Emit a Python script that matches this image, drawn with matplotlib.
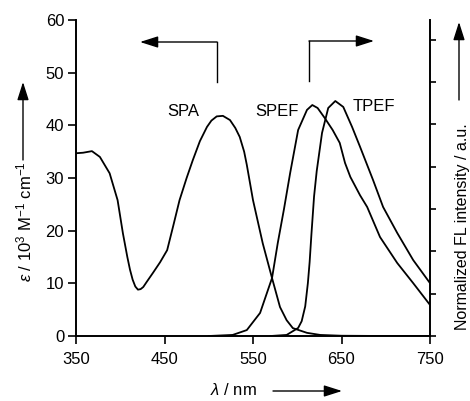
import numpy as np
import matplotlib
matplotlib.use("Agg")
import matplotlib.pyplot as plt

plt.rcParams['font.family'] = ['Liberation Sans', 'DejaVu Sans']
plt.rcParams['mathtext.fontset'] = 'custom'
plt.rcParams['mathtext.rm'] = 'Liberation Sans'
plt.rcParams['mathtext.it'] = 'Liberation Sans:italic'

# --- data ---
# one-photon absorption (left axis, 10^3 M^-1 cm^-1)
spa_nm = [350, 358, 368, 377, 388, 397, 403, 408, 411, 414, 417, 420, 423, 426,
          430, 437, 445, 453, 460, 467, 475, 482, 490, 498, 503, 509, 516, 524,
          530, 535, 540, 543, 550, 561, 571.5, 580.5, 588, 595, 611, 626, 650,
          700, 750]
spa_val = [34.7, 34.8, 35.1, 34.0, 30.9, 25.8, 19.5, 15.0, 12.6, 10.7, 9.4, 8.8,
           8.9, 9.3, 10.3, 12.0, 14.0, 16.3, 21.0, 25.8, 30.0, 33.4, 37.0, 39.7,
           40.9, 41.7, 41.8, 41.0, 39.5, 37.8, 35.0, 32.5, 25.8, 17.6, 11.0, 5.5,
           3.0, 1.5, 0.6, 0.2, 0.05, 0.0, 0.0]

# one-photon excited fluorescence (right axis, normalized)
spef_nm = [500, 527, 543, 558, 571.5, 578, 585, 592, 601, 611, 617, 623, 631,
           640, 648, 654, 660, 671, 679, 693.5, 713, 731, 750]
spef_val = [0.0, 0.005, 0.028, 0.109, 0.274, 0.44, 0.6, 0.771, 0.974, 1.069,
            1.092, 1.078, 1.031, 0.974, 0.913, 0.818, 0.752, 0.665, 0.61, 0.468,
            0.345, 0.25, 0.147]

# two-photon excited fluorescence (right axis, normalized)
tpef_nm = [570, 588, 601, 605, 609, 612, 614, 616, 619, 622, 628, 635, 643,
           652, 662, 671, 685.6, 697, 713, 731, 750]
tpef_val = [0.0, 0.005, 0.038, 0.07, 0.14, 0.25, 0.35, 0.48, 0.66, 0.78, 0.96,
            1.078, 1.111, 1.083, 0.988, 0.894, 0.738, 0.61, 0.487, 0.359, 0.25]

W, H = 470, 401
FS = 12
fig = plt.figure(figsize=(W / 100, H / 100), dpi=100)
ax = fig.add_axes([76 / W, (H - 336) / H, (430 - 76) / W, (336 - 20) / H])
ax2 = ax.twinx()

lw = 1.3
ax.plot(spa_nm, spa_val, color='black', lw=lw)
ax2.plot(spef_nm, spef_val, color='black', lw=lw)
ax2.plot(tpef_nm, tpef_val, color='black', lw=lw)

ax.set_xlim(350, 750)
ax.set_ylim(0, 60)
ax.set_xticks([350, 450, 550, 650, 750])
ax.set_yticks(range(0, 61, 10))
ax2.set_ylim(0, 1.494)
ax2.set_yticks(np.arange(0, 1.41, 0.2))
ax2.set_yticklabels([])

for a in (ax, ax2):
    a.spines['top'].set_visible(False)
    for s in a.spines.values():
        s.set_linewidth(1.4)
ax.spines['right'].set_visible(False)
ax2.spines['left'].set_visible(False)
ax2.spines['bottom'].set_visible(False)

ax.tick_params(axis='both', direction='out', length=5.5, width=1.2,
               labelsize=FS)
ax.tick_params(axis='x', pad=6)
ax.tick_params(axis='y', pad=3)
ax2.tick_params(axis='y', direction='out', length=4.5, width=1.2)

# curve labels (pixel positions measured from the top-left corner)
for label, px, py in [('SPA', 183, 112), ('SPEF', 277, 111), ('TPEF', 374, 107)]:
    fig.text(px / W, 1 - py / H, label, fontsize=FS, ha='center', va='center')

arrow = dict(arrowstyle='-|>,head_length=1.1,head_width=0.35', color='black',
             lw=1.0, shrinkA=0, shrinkB=0)


def fig_arrow(x0, y0, x1, y1):
    fig.add_artist(matplotlib.patches.FancyArrowPatch(
        (x0, H - y0), (x1, H - y1), transform=None,
        mutation_scale=10, **arrow))


def fig_line(x0, y0, x1, y1):
    fig.add_artist(matplotlib.lines.Line2D([x0, x1], [H - y0, H - y1],
                                           transform=None, color='black', lw=1.0))


# in-plot direction arrows
fig_line(217, 82, 217, 42)
fig_arrow(217, 42, 140, 42)
fig_line(309, 81, 309, 41)
fig_arrow(309, 41, 374, 41)

# axis labels with arrows
fig.text(24 / W, 1 - 222 / H, '$\\varepsilon$ / 10$^3$ M$^{-1}$ cm$^{-1}$',
         rotation=90, ha='center', va='center', fontsize=FS)
fig_arrow(23, 160, 23, 82)

fig.text(462 / W, 1 - 227 / H, 'Normalized FL intensity / a.u.',
         rotation=90, ha='center', va='center', fontsize=11.5)
fig_arrow(459, 100, 459, 22)

fig.text(233 / W, 1 - 390 / H, '$\\lambda$ / nm', ha='center', va='center',
         fontsize=FS)
fig_arrow(273, 391, 342, 391)

fig.savefig('out.png', dpi=100)
